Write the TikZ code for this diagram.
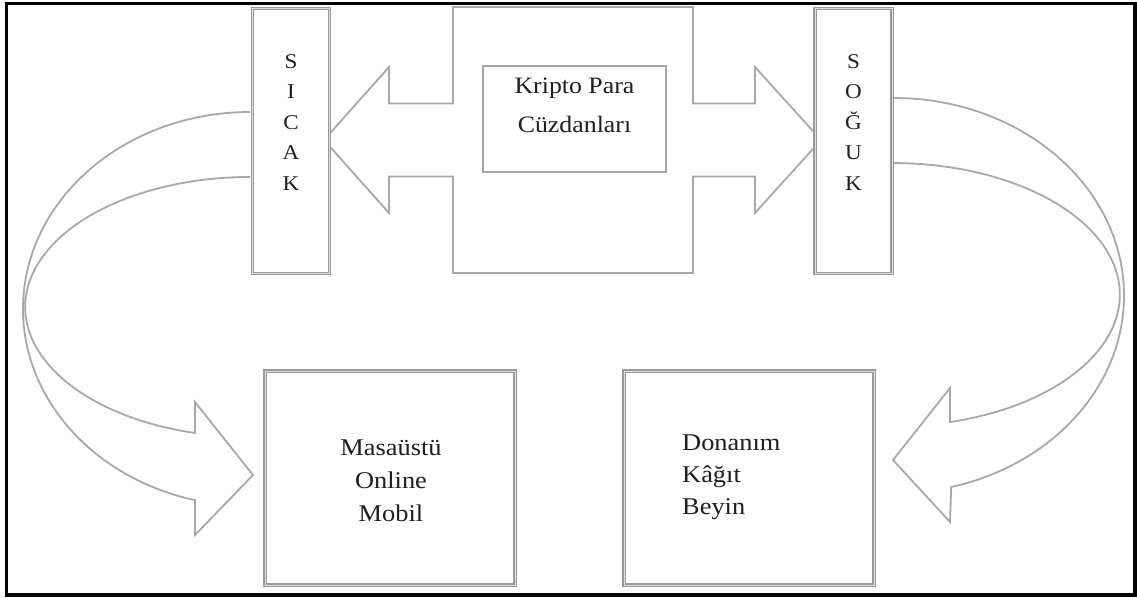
\documentclass[tikz,border=0pt]{standalone}
\usepackage{fontspec}
\setmainfont{Liberation Serif}[FakeStretch=1.1]
\begin{document}
\begin{tikzpicture}[x=1pt,y=-1pt,
  gline/.style={draw=gray!68, line width=1.8pt, line join=miter},
  dbox/.style={draw=gray!80, line width=1.3pt, double=gray!25, double distance=1pt, fill=white, inner sep=0pt},
  sbox/.style={draw=gray!70, line width=1.8pt, fill=white, inner sep=0pt},
  lab/.style={anchor=base, inner sep=0pt, text=black!88},
  labw/.style={anchor=base west, inner sep=0pt, text=black!88},
  fA/.style={font=\fontsize{21}{21}\selectfont},
  fB/.style={font=\fontsize{23.5}{23.5}\selectfont},
  fC/.style={font=\fontsize{24}{24}\selectfont}]
\useasboundingbox (0,0) rectangle (1137,597);

% outer frame
\draw[line width=3.5pt] (6.5,3.6) rectangle (1135.2,595.2);

% central double arrow shape
\draw[gline, fill=white] (453,7) -- (693,7) -- (693,103.5) -- (755,103.5) -- (755,67) -- (821,140)
  -- (755,213) -- (755,176.5) -- (693,176.5) -- (693,273) -- (453,273) -- (453,176.5)
  -- (389,176.5) -- (389,213) -- (324,140) -- (389,67) -- (389,103.5) -- (453,103.5) -- cycle;

% curved arrows
\draw[gline] (250,112) arc[start angle=270, end angle=104, x radius=227, y radius=197]
  -- (195,535) -- (253,475) -- (195,402) -- (195,433)
  arc[start angle=104.2, end angle=270, x radius=225, y radius=130];
\draw[gline] (894,98) arc[start angle=270, end angle=435.6, x radius=230, y radius=197.6]
  -- (950,522) -- (893,460) -- (950,388) -- (950,422)
  arc[start angle=75.4, end angle=-90, x radius=227, y radius=131.6];

% boxes
\node[dbox, minimum width=77pt, minimum height=265pt] (sicak) at (291,141) {};
\node[dbox, minimum width=77pt, minimum height=265pt] (soguk) at (853.5,141) {};
\node[sbox, minimum width=183pt, minimum height=106pt] (kripto) at (574.5,119) {};
\node[dbox, minimum width=250pt, minimum height=214pt] (sicakbox) at (390,478) {};
\node[dbox, minimum width=250pt, minimum height=214pt] (sogukbox) at (749,478) {};

% vertical labels
\foreach \t [count=\i] in {S,I,C,A,K}
  \node[lab, fA] (sl\i) at (291,{68+30.5*(\i-1)}) {\t};
\foreach \t [count=\i] in {S,O,Ğ,U,K}
  \node[lab, fA] (ol\i) at (853.5,{68+30.5*(\i-1)}) {\t};

% central labels
\node[lab, fB] (k1) at (574.5,93) {Kripto Para};
\node[lab, fB] (k2) at (574.5,132) {Cüzdanları};

% bottom labels
\node[lab, fC] (m1) at (391,455) {Masaüstü};
\node[lab, fC] (m2) at (391,488) {Online};
\node[lab, fC] (m3) at (391,521) {Mobil};
\node[labw, fC] (d1) at (682,450) {Donanım};
\node[labw, fC] (d2) at (682,482) {Kâğıt};
\node[labw, fC] (d3) at (682,514) {Beyin};
\end{tikzpicture}
\end{document}
